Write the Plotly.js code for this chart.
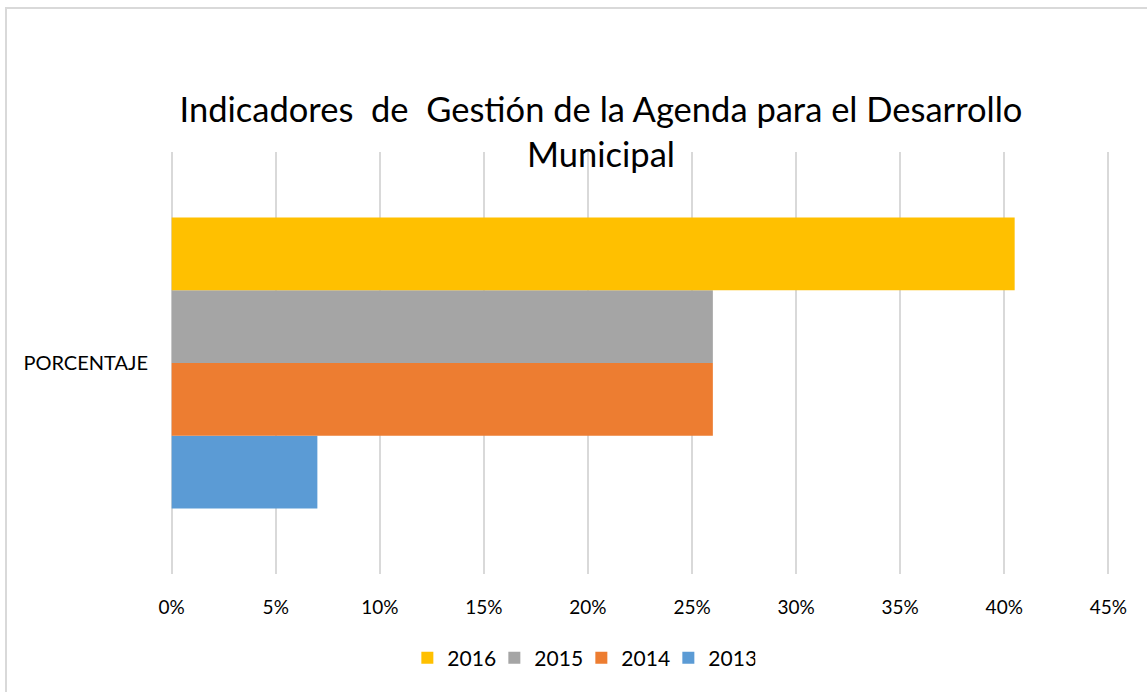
<!DOCTYPE html>
<html>
<head>
<meta charset="utf-8">
<script src="https://cdn.plot.ly/plotly-3.0.1.min.js"></script>
<style>
  html, body { margin: 0; padding: 0; width: 1147px; height: 692px; overflow: hidden; background: #fff; }
  #frame { position: absolute; left: 5px; top: 7px; width: 1200px; height: 750px; border-left: 2px solid #d9d9d9; border-top: 2px solid #d9d9d9; }
  #chart { position: absolute; left: 0; top: 0; width: 1147px; height: 692px; }
</style>
</head>
<body>
<div id="frame"></div>
<div id="chart"></div>
<script>
const categories = ['PORCENTAJE'];
const years = ['2013', '2014', '2015', '2016'];
const values2013 = [0.07];
const values2014 = [0.26];
const values2015 = [0.26];
const values2016 = [0.405];
const colors = ['#5B9BD5', '#ED7D31', '#A5A5A5', '#FFC000'];
const seriesValues = [values2013, values2014, values2015, values2016];
const xTickVals = [0, 0.05, 0.10, 0.15, 0.20, 0.25, 0.30, 0.35, 0.40, 0.45];

const FONT = 'Lato, "Open Sans", sans-serif';

const traces = years.map((y, i) => ({
  type: 'bar',
  orientation: 'h',
  name: y,
  y: categories,
  x: seriesValues[i],
  marker: { color: colors[i] },
  hoverinfo: 'x+name'
}));

const layout = {
  width: 1147,
  height: 692,
  paper_bgcolor: 'rgba(0,0,0,0)',
  plot_bgcolor: 'rgba(0,0,0,0)',
  margin: { l: 170, r: 37, t: 152, b: 118, autoexpand: false },
  barmode: 'group',
  bargap: 0.31,
  bargroupgap: 0,
  font: { family: FONT, color: '#000' },
  title: {
    text: 'Indicadores  de  Gestión de la Agenda para el Desarrollo<br>Municipal',
    font: { family: FONT, size: 34.5, color: '#000' },
    x: 0.524, xanchor: 'center', xref: 'container',
    y: 0.824, yanchor: 'middle', yref: 'container'
  },
  xaxis: {
    range: [-0.0008, 0.4508],
    tickvals: xTickVals,
    tickformat: '.0%',
    showgrid: true,
    gridcolor: '#d9d9d9',
    gridwidth: 2,
    zeroline: false,
    showline: false,
    ticks: 'outside',
    ticklen: 16,
    tickcolor: 'rgba(0,0,0,0)',
    tickfont: { family: FONT, size: 19, color: '#000' },
    fixedrange: true
  },
  yaxis: {
    type: 'category',
    showgrid: false,
    zeroline: false,
    showline: false,
    ticks: 'outside',
    ticklen: 17,
    tickcolor: 'rgba(0,0,0,0)',
    tickfont: { family: FONT, size: 20, color: '#000' },
    fixedrange: true
  },
  showlegend: true,
  legend: {
    orientation: 'h',
    traceorder: 'reversed',
    x: 0.4376, xanchor: 'center',
    y: -0.199, yanchor: 'middle',
    entrywidth: 42,
    entrywidthmode: 'pixels',
    font: { family: FONT, size: 21, color: '#000' },
    bgcolor: 'rgba(0,0,0,0)'
  }
};

Plotly.newPlot('chart', traces, layout, { displayModeBar: false, staticPlot: true });
</script>
</body>
</html>
